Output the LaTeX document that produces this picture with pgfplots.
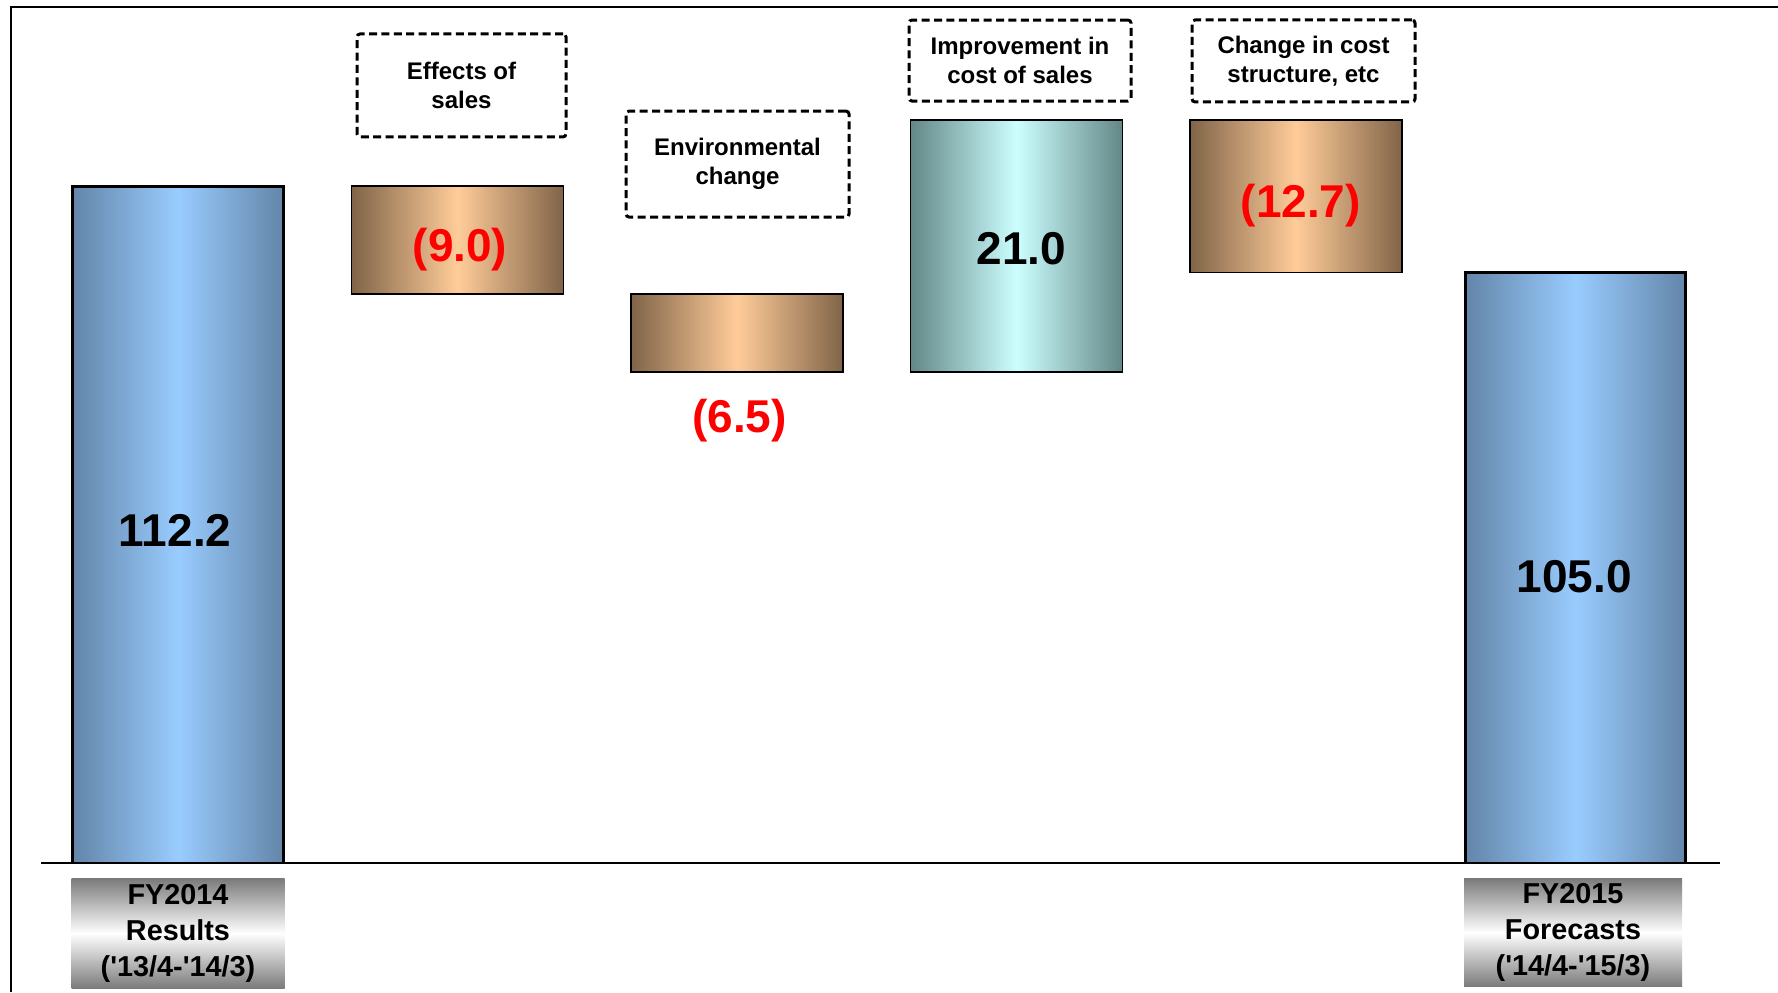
\documentclass[border=0pt]{standalone}
\usepackage{pgfplots}
\pgfplotsset{compat=1.18}
\usepackage{fontspec}
\setmainfont{Liberation Sans}
\definecolor{bluedark}{RGB}{99,133,168}
\definecolor{bluelight}{RGB}{153,204,255}
\definecolor{copperdark}{RGB}{128,100,72}
\definecolor{copperlight}{RGB}{255,204,153}
\definecolor{tealdark}{RGB}{100,135,135}
\definecolor{teallight}{RGB}{204,255,255}
\pgfplotsset{
  wf/.style={
    at={(5.5pt,64.5pt)}, anchor=south west,
    scale only axis, width=883.5pt, height=428pt,
    xmin=-0.5975, xmax=5.7245, ymin=55.78, ymax=127.12,
    hide axis, clip mode=individual,
    bar width=0.758,
  },
  totalbar/.style={ybar, bar shift=0pt, draw=black, line width=1.5pt,
    left color=bluedark, right color=bluedark, middle color=bluelight},
  negbar/.style={draw=black, line width=0.75pt,
    left color=copperdark, right color=copperdark, middle color=copperlight},
  posbar/.style={draw=black, line width=0.75pt,
    left color=tealdark, right color=tealdark, middle color=teallight},
}
% floating bar: #1 = x position, #2 = lower end, #3 = size of change, #4 = style
\newcommand{\floatbar}[4]{%
  \begin{axis}[wf, ybar stacked]
  \addplot[draw=none, fill=none] coordinates {(#1,#2)};
  \addplot[#4] coordinates {(#1,#3)};
  \end{axis}}
\tikzset{
  dbox/.style={draw=black, line width=1.5pt, dash pattern=on 4pt off 2.2pt,
    rounded corners=1.5pt, align=center, inner sep=0pt,
    font=\bfseries\fontsize{12}{14.75}\selectfont},
  valn/.style={font=\bfseries\fontsize{23}{27}\selectfont, text height=16.5pt,
    text depth=0pt, inner sep=0pt},
  cat/.style={top color=black!52, bottom color=black!52, middle color=white,
    minimum width=106.5pt, minimum height=55pt, align=center, inner sep=0pt,
    anchor=north, yshift=-7.5pt, font=\bfseries\fontsize{14.4}{17.8}\selectfont},
}
\begin{document}
\begin{tikzpicture}
\useasboundingbox (0,0) rectangle (889pt,496pt);
\fill[white] (0,0) rectangle (889pt,496pt);
\draw[line width=1pt] (5.6pt,0) -- (5.6pt,492.5pt) -- (889pt,492.5pt);
% totals
\begin{axis}[wf]
\addplot[totalbar] coordinates {(0,112.2)};
\addplot[totalbar, bar width=0.79] coordinates {(5,105.0)};
\end{axis}
% changes: 112.2 -9.0 -6.5 +21.0 -12.7 = 105.0
\floatbar{1}{103.2}{9.0}{negbar}
\floatbar{2}{96.7}{6.5}{negbar}
\floatbar{3}{96.7}{21.0}{posbar}
\floatbar{4}{105.0}{12.7}{negbar}
\begin{axis}[wf]
% baseline
\draw[line width=1pt] (axis cs:-0.490,55.78) -- (axis cs:5.517,55.78);
% value labels
\node[valn] at (axis cs:-0.01,83.5) {112.2};
\node[valn, text=red] at (axis cs:1.009,107.28) {(9.0)};
\node[valn, text=red] at (axis cs:2.009,93.03) {(6.5)};
\node[valn] at (axis cs:3.018,107.0) {21.0};
\node[valn, text=red] at (axis cs:4.017,110.98) {(12.7)};
\node[valn] at (axis cs:4.995,79.7) {105.0};
% category boxes
\node[dbox, minimum width=104.5pt, minimum height=51.5pt] at (axis cs:1.0143,120.58) {Effects of\\sales};
\node[dbox, minimum width=111.5pt, minimum height=53pt] at (axis cs:2.0018,114.03) {Environmental\\change};
\node[dbox, minimum width=111pt, minimum height=40.5pt] at (axis cs:3.0125,122.66) {Improvement in\\cost of sales};
\node[dbox, minimum width=111.5pt, minimum height=41pt] at (axis cs:4.0268,122.62) {Change in cost\\structure, etc};
% bottom labels
\node[cat] at (axis cs:0,55.78) {FY2014\\Results\\(\textquotesingle13/4-\textquotesingle14/3)};
\node[cat, minimum width=109pt, minimum height=54pt] at (axis cs:4.991,55.78) {FY2015\\Forecasts\\(\textquotesingle14/4-\textquotesingle15/3)};
\end{axis}
\end{tikzpicture}
\end{document}
